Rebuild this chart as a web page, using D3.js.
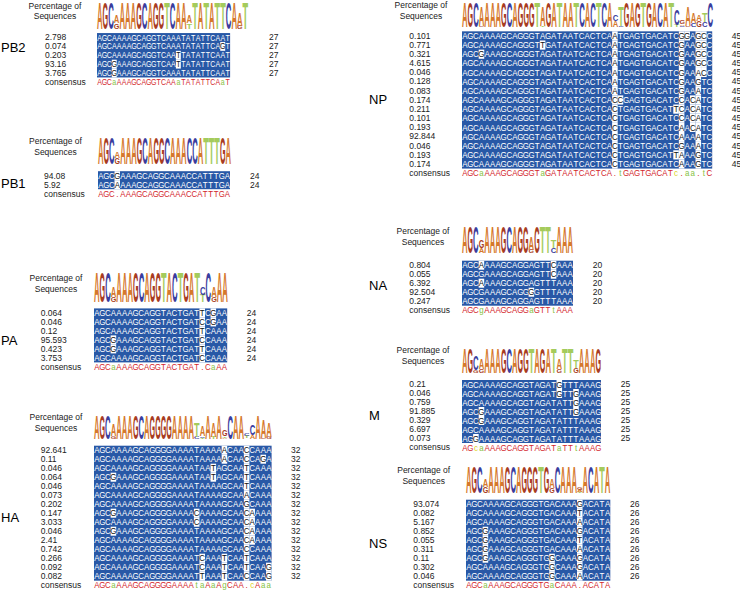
<!DOCTYPE html>
<html>
<head>
<meta charset="utf-8">
<script src="https://cdn.jsdelivr.net/npm/d3@7"></script>
<style>
  body { margin: 0; background: #fff; }
  svg { display: block; }
</style>
</head>
<body>
<svg width="740" height="590"></svg>
<script>
// ---- data: segment names, sequence percentages, sequences, consensus ----
var segments = ["PB2", "PB1", "PA", "HA", "NP", "NA", "M", "NS"];

var pb2Pct = ["2.798", "0.074", "0.203", "93.16", "3.765"];
var pb2Seq = [
  "AGCAAAAGCAGGTCAAATATATTCAAT",
  "AGCAAAAGCAGGTCAAATATATTCAGT",
  "AGCAAAAGCAGGTCAATTATATTCAAT",
  "AGCGAAAGCAGGTCAATTATATTCAAT",
  "AGCGAAAGCAGGTCAAATATATTCAAT"];
var pb2Cons = "AGCaAAAGCAGGTCAAaTATATTCAaT";

var pb1Pct = ["94.08", "5.92"];
var pb1Seq = [
  "AGCGAAAGCAGGCAAACCATTTGA",
  "AGCAAAAGCAGGCAAACCATTTGA"];
var pb1Cons = "AGC.AAAGCAGGCAAACCATTTGA";

var paPct = ["0.064", "0.046", "0.12", "95.593", "0.423", "3.753"];
var paSeq = [
  "AGCAAAAGCAGGTACTGATTCGAA",
  "AGCAAAAGCAGGTACTGATCCGAA",
  "AGCAAAAGCAGGTACTGATTCAAA",
  "AGCGAAAGCAGGTACTGATCCAAA",
  "AGCGAAAGCAGGTACTGATTCAAA",
  "AGCAAAAGCAGGTACTGATCCAAA"];
var paCons = "AGCaAAAGCAGGTACTGAT.CaAA";

var haPct = ["92.641", "0.11", "0.046", "0.064", "0.046", "0.073", "0.202", "0.147",
             "3.033", "0.046", "2.41", "0.742", "0.266", "0.092", "0.082"];
var haSeq = [
  "AGCAAAAGCAGGGGAAAATAAAAACAACCAAA",
  "AGCAAAAGCAGGGGAAAATAAAAACAACCAGA",
  "AGCAAAAGCAGGGGAAAATAATAGCAATCAAA",
  "AGCGAAAGCAGGGGAAAATAATAGCAATCAAA",
  "AGCAAAAGCAGGGGAAAATAAAAGCAATCAAA",
  "AGCAAAAGCAGGGGAAAATAAAAGCAAACAAA",
  "AGCAAAAGCAGGGGAAAATAAAAGCAAGCAAA",
  "AGCGAAAGCAGGGGAAAACAAAAGCAACAAAA",
  "AGCAAAAGCAGGGGAAAACAAAAGCAACAAAA",
  "AGCGAAAGCAGGGGAAAATAAAAGCAACAAAA",
  "AGCAAAAGCAGGGGAAAATAAAAGCAACAAAA",
  "AGCAAAAGCAGGGGAAAATAAAAGCAACCAAA",
  "AGCAAAAGCAGGGGAAAATCAAATCAATCAAA",
  "AGCAAAAGCAGGGGAAAATCAAATCAATCAAG",
  "AGCAAAAGCAGGGGAAAATTAAATCAACCAAG"];
var haCons = "AGCaAAAGCAGGGGAAAAtaAaAgCAA.cAaa";

var npPct = ["0.101", "0.771", "0.321", "4.615", "0.046", "0.128", "0.083", "0.174",
             "0.211", "0.101", "0.193", "92.844", "0.046", "0.193", "0.174"];
var npSeq = [
  "AGCAAAAGCAGGGTAGATAATCACTCAATGAGTGACATCGGAGCC",
  "AGCAAAAGCAGGGTTGATAATCACTCAATGAGTGACATCGAAGCC",
  "AGCGAAAGCAGGGTAGATAATCACTCAATGAGTGACATCGAAGCC",
  "AGCAAAAGCAGGGTAGATAATCACTCAATGAGTGACATCGAAGCC",
  "AGCAAAAGCAGGGTAGATAATCACTCAATGAGTGACATCGAAACC",
  "AGCAAAAGCAGGGTAGATAATCACTCAATGAGTGACATCGAAGTC",
  "AGCAAAAGCAGGGTAGATAATCACTCAATGAGTGACATCGAAATC",
  "AGCAAAAGCAGGGTAGATAATCACTCACCGAGTGACATCCACATC",
  "AGCAAAAGCAGGGTAGATAATCACTCACTGAGTGACATTCACATC",
  "AGCAAAAGCAGGGTAGATAATCACTCACTGAGTGACATCCACATC",
  "AGCAAAAGCAGGGTAGATAATCACTCACTGAGTGACATCAACATC",
  "AGCAAAAGCAGGGTAGATAATCACTCACTGAGTGACATCAAAATC",
  "AGCAAAAGCAGGGTAGATAATCACTCACTGAGTGACATCGAAATC",
  "AGCAAAAGCAGGGTAGATAATCACTCACTGAGTGACATTAAAGTC",
  "AGCAAAAGCAGGGTAGATAATCACTCACTGAGTGACATCAAAGTC"];
var npCons = "AGCaAAAGCAGGGTaGATAATCACTCA.tGAGTGACATc.aa.tC";

var naPct = ["0.804", "0.055", "6.392", "92.504", "0.247"];
var naSeq = [
  "AGCAAAAGCAGGAGTTCAAA",
  "AGCGAAAGCAGGAGTTCAAA",
  "AGCAAAAGCAGGAGTTTAAA",
  "AGCGAAAGCAGGGGTTTAAA",
  "AGCGAAAGCAGGAGTTTAAA"];
var naCons = "AGCgAAAGCAGGaGTTtAAA";

var mPct = ["0.21", "0.046", "0.759", "91.885", "0.329", "6.697", "0.073"];
var mSeq = [
  "AGCAAAAGCAGGTAGATGTTTAAAG",
  "AGCAAAAGCAGGTAGATGTTGAAAG",
  "AGCAAAAGCAGGTAGATATTGAAAG",
  "AGCGAAAGCAGGTAGATATTGAAAG",
  "AGCGAAAGCAGGTAGATATTTAAAG",
  "AGCAAAAGCAGGTAGATATTTAAAG",
  "AGGAAAAGCAGGTAGATATTTAAAG"];
var mCons = "AGcaAAAGCAGGTAGATaTTtAAAG";

var nsPct = ["93.074", "0.082", "5.167", "0.852", "0.055", "0.311", "0.11", "0.302", "0.046"];
var nsSeq = [
  "AGCAAAAGCAGGGTGACAAAGACATA",
  "AGCAAAAGCAGGGTGACAAATACATA",
  "AGCAAAAGCAGGGTGACAAAAACATA",
  "AGCGAAAGCAGGGTGACAAAGACATA",
  "AGCGAAAGCAGGGTGACAAATACATA",
  "AGCGAAAGCAGGGTGACAAAAACATA",
  "AGCGAAAGCAGGGTGGCAAAGACATA",
  "AGCAAAAGCAGGGTGGCAAAGACATA",
  "AGCAAAAGCAGGGTGGCAAAAACATA"];
var nsCons = "AGCaAAAGCAGGGTGaCAAA.ACATA";

var pctTitle = ["Percentage of", "Sequences"];

// ---- layout (pixels) ----
var layout = {
  PB2: {x0: 97,  cw: 4.93, y0: 37.3,  rowH: 8.88, lx: 97,  lcw: 5.6,  lTop: 2,   lBot: 29,  pctX: 45,    cntX: 269,   nameX: 1,   nameY: 47,  labX: 55,    labY: 5.5},
  PB1: {x0: 98,  cw: 5.5,  y0: 175.5, rowH: 9,    lx: 98,  lcw: 5.54, lTop: 138, lBot: 164, pctX: 44,    cntX: 250,   nameX: 1,   nameY: 183, labX: 55.5,  labY: 140.7},
  PA:  {x0: 94,  cw: 5.55, y0: 312.7, rowH: 9,    lx: 94,  lcw: 5.58, lTop: 272, lBot: 302, pctX: 40.7,  cntX: 246.7, nameX: 1,   nameY: 340, labX: 56,    labY: 278},
  HA:  {x0: 94,  cw: 5.55, y0: 450,   rowH: 9,    lx: 94,  lcw: 5.56, lTop: 415, lBot: 439, pctX: 40.7,  cntX: 291,   nameX: 1,   nameY: 517, labX: 56,    labY: 416.7},
  NP:  {x0: 462, cw: 5.56, y0: 35.7,  rowH: 9.15, lx: 462, lcw: 5.58, lTop: 2,   lBot: 27,  pctX: 409.3, cntX: 731.7, nameX: 369, nameY: 99,  labX: 421,   labY: 5},
  NA:  {x0: 462, cw: 5.55, y0: 265,   rowH: 9,    lx: 462, lcw: 5.55, lTop: 227, lBot: 253, pctX: 409.3, cntX: 592.7, nameX: 369, nameY: 285, labX: 423,   labY: 231},
  M:   {x0: 462, cw: 5.56, y0: 384.3, rowH: 9,    lx: 462, lcw: 5.56, lTop: 348, lBot: 373, pctX: 409.3, cntX: 620.7, nameX: 369, nameY: 415, labX: 423,   labY: 350},
  NS:  {x0: 466, cw: 5.55, y0: 504,   rowH: 9,    lx: 466, lcw: 5.55, lTop: 467, lBot: 493, pctX: 413.3, cntX: 630,   nameX: 369, nameY: 543, labX: 423.7, labY: 470}
};

var panelData = {
  PB2: [pb2Pct, pb2Seq, pb2Cons], PB1: [pb1Pct, pb1Seq, pb1Cons],
  PA: [paPct, paSeq, paCons],     HA: [haPct, haSeq, haCons],
  NP: [npPct, npSeq, npCons],     NA: [naPct, naSeq, naCons],
  M: [mPct, mSeq, mCons],         NS: [nsPct, nsSeq, nsCons]
};

var uiFont = "'Liberation Sans', Arial, sans-serif";
var logoColor = {A: "#d5782c", C: "#3a3d9e", G: "#a83c22", T: "#a4cb5c"};
var blue = "#2858a6";

var svg = d3.select("svg");
svg.append("rect").attr("width", 740).attr("height", 590).attr("fill", "#fff");

// measure advance widths of logo glyphs
var meas = svg.append("text").attr("font-family", uiFont).attr("font-weight", "bold").attr("font-size", 100);
var adv = {};
["A", "C", "G", "T"].forEach(function(k) { meas.text(k); adv[k] = meas.node().getComputedTextLength(); });
meas.remove();

function logoStacks(seqs) {
  var n = seqs.length;
  return d3.range(seqs[0].length).map(function(i) {
    var counts = d3.rollup(seqs, v => v.length, s => s[i]);
    var f = Array.from(counts, ([k, c]) => ({k: k, p: c / n}));
    var H = 0;
    f.forEach(d => H -= d.p * Math.log2(d.p));
    var R = 2 - H;
    f.sort((a, b) => a.p - b.p);
    var acc = 0;
    return f.map(function(d) {
      var o = {pos: i, letter: d.k, lo: acc, hi: acc + d.p * R};
      acc = o.hi;
      return o;
    });
  });
}

function consColor(c) {
  if (c === "." || c === c.toUpperCase()) return "#d3262c";
  if (c === "c") return "#ddd21f";
  return "#84c140";
}

segments.forEach(function(name) {
  var L = layout[name];
  var pct = panelData[name][0], seqs = panelData[name][1], cons = panelData[name][2];
  var len = cons.length, n = seqs.length;
  var g = svg.append("g");

  var x = d3.scaleBand().domain(d3.range(len)).range([L.x0, L.x0 + len * L.cw]);
  var y = d3.scaleLinear().domain([0, n]).range([L.y0, L.y0 + n * L.rowH]);
  var xl = d3.scaleBand().domain(d3.range(len)).range([L.lx, L.lx + len * L.lcw]);
  var yl = d3.scaleLinear().domain([0, 2]).range([L.lBot, L.lTop]);
  var sx = L.cw * 0.155;

  // segment name
  g.append("text").attr("x", L.nameX).attr("y", L.nameY + 4.7)
    .attr("font-family", uiFont).attr("font-size", 13).text(name);

  // "Percentage of Sequences"
  g.selectAll("text.lab").data(pctTitle).enter().append("text")
    .attr("x", L.labX).attr("y", (d, i) => L.labY + 3 + i * 10.8)
    .attr("text-anchor", "middle").attr("font-family", uiFont).attr("font-size", 8.5)
    .attr("fill", "#222").text(d => d);

  // logo
  var stacks = logoStacks(seqs).flat().filter(d => yl(d.lo) - yl(d.hi) > 0.3);
  g.selectAll("text.logo").data(stacks).enter().append("text")
    .attr("font-family", uiFont).attr("font-weight", "bold").attr("font-size", 100)
    .attr("fill", d => logoColor[d.letter])
    .attr("transform", function(d) {
      var h = yl(d.lo) - yl(d.hi);
      return "translate(" + xl(d.pos) + "," + yl(d.lo) + ") scale(" +
        (xl.bandwidth() / adv[d.letter]) + "," + (h / 71.6) + ")";
    })
    .text(d => d.letter);

  // blue block
  g.append("rect")
    .attr("x", x(0)).attr("width", len * L.cw)
    .attr("y", y(0) - L.rowH / 2 + 0.2).attr("height", n * L.rowH)
    .attr("fill", blue);

  var cells = [];
  seqs.forEach(function(s, r) {
    for (var i = 0; i < len; i++) {
      var c = cons[i];
      cells.push({r: r, i: i, ch: s[i], hl: c === "." || s[i] !== c.toUpperCase()});
    }
  });

  g.selectAll("rect.hl").data(cells.filter(d => d.hl)).enter().append("rect")
    .attr("x", d => x(d.i)).attr("width", x.bandwidth())
    .attr("y", d => y(d.r) - L.rowH / 2 + 0.2).attr("height", L.rowH)
    .attr("fill", "#fff");

  g.selectAll("text.ch").data(cells).enter().append("text")
    .attr("transform", d => "translate(" + (x(d.i) + x.bandwidth() / 2) + "," + (y(d.r) + 3.3) + ") scale(" + sx + ",1)")
    .attr("text-anchor", "middle").attr("font-family", uiFont).attr("font-size", 9.2)
    .attr("fill", d => d.hl ? "#111" : "#fff").text(d => d.ch);

  // consensus
  g.selectAll("text.cons").data(cons.split("")).enter().append("text")
    .attr("transform", (d, i) => "translate(" + (x(i) + x.bandwidth() / 2) + "," + (y(n) + 3.3) + ") scale(" + sx + ",1)")
    .attr("text-anchor", "middle").attr("font-family", uiFont).attr("font-size", 9.2)
    .attr("fill", consColor).text(d => d);

  // percentages, lengths, consensus label
  g.selectAll("text.pct").data(pct.concat(["consensus"])).enter().append("text")
    .attr("x", L.pctX).attr("y", (d, i) => y(i) + 3)
    .attr("font-family", uiFont).attr("font-size", 8.5).attr("fill", "#222").text(d => d);

  g.selectAll("text.cnt").data(seqs).enter().append("text")
    .attr("x", L.cntX).attr("y", (d, i) => y(i) + 3)
    .attr("font-family", uiFont).attr("font-size", 8.5).attr("fill", "#222").text(d => d.length);
});
</script>
</body>
</html>
